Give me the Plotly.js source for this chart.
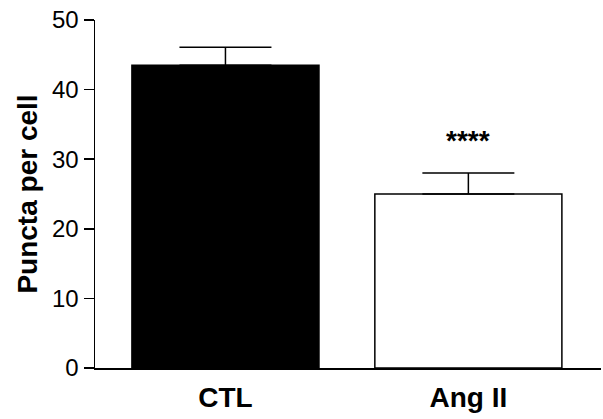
<!DOCTYPE html>
<html>
<head>
<meta charset="utf-8">
<script src="https://cdn.plot.ly/plotly-3.0.1.min.js"></script>
<style>html,body{margin:0;padding:0;background:#fff;}#chart{width:603px;height:419px;}</style>
</head>
<body>
<div id="chart"></div>
<script>
const categories = ["CTL", "Ang II"];
const meanValues = [43.5, 25.0];
const errorValues = [2.6, 3.0];
const barFills = ["#000000", "#ffffff"];
const significance = ["", "****"];
const yTickValues = [0, 10, 20, 30, 40, 50];

const trace = {
  type: "bar",
  x: [0, 1],
  y: meanValues,
  width: 0.77,
  marker: { color: barFills, line: { color: "#000", width: 1.5 } },
  error_y: {
    type: "data",
    symmetric: false,
    array: errorValues,
    arrayminus: [0, 0],
    color: "#000",
    thickness: 1.5,
    width: 46
  },
  hoverinfo: "none"
};

const annotations = [];
significance.forEach((s, i) => {
  if (s) {
    annotations.push({
      x: i, y: meanValues[i] + errorValues[i], xref: "x", yref: "y",
      text: "<b>" + s + "</b>", showarrow: false, yanchor: "bottom", yshift: 15,
      font: { family: "Liberation Sans, Arial, sans-serif", size: 28, color: "#000" }
    });
  }
});

const layout = {
  width: 603, height: 419,
  margin: { l: 95, r: 2, t: 20, b: 51 },
  paper_bgcolor: "#fff", plot_bgcolor: "#fff",
  showlegend: false,
  font: { family: "Liberation Sans, Arial, sans-serif", color: "#000" },
  xaxis: {
    range: [-0.537, 1.546],
    tickvals: [0, 1],
    ticktext: categories.map(c => "<b>" + c + "</b>"),
    tickfont: { size: 28, color: "#000" },
    ticklabelstandoff: 4,
    showline: true, linecolor: "#000", linewidth: 1.5,
    ticks: "", showgrid: false, zeroline: false,
    fixedrange: true
  },
  yaxis: {
    range: [0, 50],
    tickvals: yTickValues,
    ticks: "outside", ticklen: 10, tickwidth: 1.5, tickcolor: "#000",
    tickfont: { size: 24, color: "#000" },
    showline: true, linecolor: "#000", linewidth: 1.5,
    showgrid: false, zeroline: false,
    title: { text: "<b>Puncta per cell</b>", font: { size: 28, color: "#000" }, standoff: 6 },
    fixedrange: true
  },
  annotations: annotations
};

Plotly.newPlot("chart", [trace], layout, { staticPlot: true, displayModeBar: false });
</script>
</body>
</html>
